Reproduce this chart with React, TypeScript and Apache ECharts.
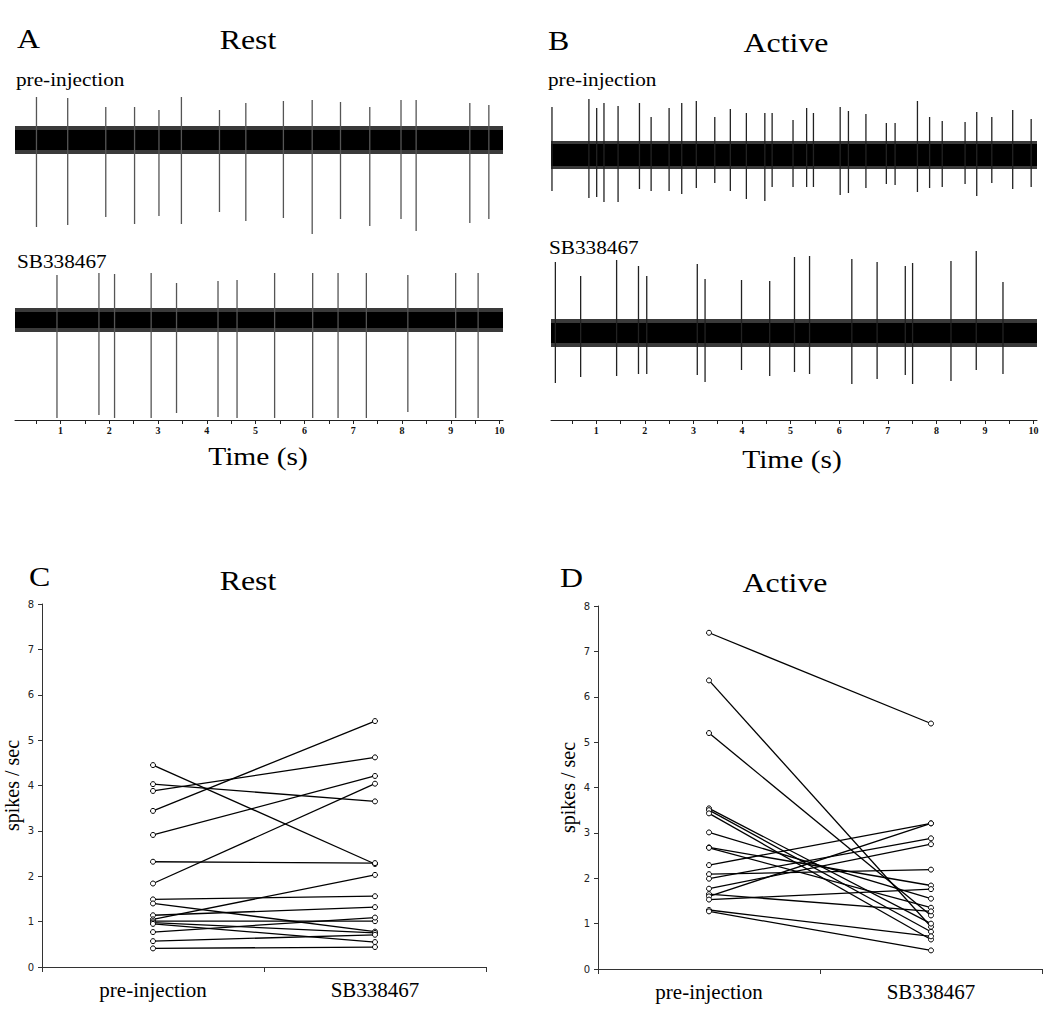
import React, { useEffect, useRef } from "react";
import * as echarts from "echarts";

// ---------- data ----------
const groups = ["pre-injection", "SB338467"];
const timeLabelValues = [1, 2, 3, 4, 5, 6, 7, 8, 9, 10];
const timeTickValues = [0.5, 1, 1.5, 2, 2.5, 3, 3.5, 4, 4.5, 5, 5.5, 6, 6.5, 7, 7.5, 8, 8.5, 9, 9.5, 10];
const traceRange = [0.07, 10.07];

// noise band half-widths [dense core, ragged edge] (amplitude units)
const restPreBand = [10, 14];
const restSBBand = [8, 12];
const activePreBand = [11, 14];
const activeSBBand = [10, 14];

// spikes: [time (s), positive peak, negative peak]
const restPreSpikes = [
  [0.51, 43, -87], [1.15, 42, -85], [1.93, 33, -77], [2.52, 33, -84], [3.02, 30, -76],
  [3.48, 43, -84], [4.26, 30, -72], [4.8, 37, -81], [5.57, 39, -78], [6.16, 40, -94],
  [6.74, 38, -79], [7.34, 33, -86], [7.98, 40, -79], [8.29, 40, -91], [9.39, 37, -83],
  [9.78, 35, -79],
];
const restSBSpikes = [
  [0.93, 45, -98], [1.79, 47, -95], [2.11, 46, -98], [2.86, 47, -98], [3.38, 37, -93],
  [4.23, 39, -97], [4.62, 40, -98], [5.39, 47, -98], [6.17, 47, -98], [6.69, 47, -98],
  [7.27, 47, -98], [8.12, 45, -92], [9.1, 47, -98], [9.56, 47, -98],
];
const activePreSpikes = [
  [0.09, 48, -36], [0.85, 56, -43], [1.01, 47, -42], [1.16, 52, -47], [1.45, 49, -47],
  [1.89, 52, -34], [2.13, 38, -36], [2.5, 47, -36], [2.76, 52, -39], [3.06, 54, -33],
  [3.44, 38, -28], [3.76, 46, -36], [4.09, 42, -44], [4.47, 42, -46], [4.62, 42, -32],
  [5.05, 35, -32], [5.33, 47, -32], [5.47, 42, -32], [6.02, 48, -40], [6.19, 44, -38],
  [6.55, 41, -33], [6.97, 32, -29], [7.15, 32, -30], [7.61, 54, -37], [7.86, 38, -33],
  [8.12, 34, -32], [8.59, 33, -29], [8.83, 43, -41], [9.14, 38, -28], [9.57, 45, -34],
  [9.95, 36, -32],
];
const activeSBSpikes = [
  [0.16, 71, -50], [0.68, 57, -44], [1.42, 73, -43], [1.87, 67, -41], [2.04, 57, -41],
  [3.08, 69, -42], [3.24, 54, -49], [3.99, 53, -37], [4.57, 52, -43], [5.08, 76, -39],
  [5.39, 77, -41], [6.26, 74, -51], [6.78, 71, -46], [7.36, 67, -42], [7.51, 70, -51],
  [8.3, 72, -48], [8.82, 82, -37], [9.37, 51, -41],
];

// firing rates (spikes / sec), paired per neuron
const restPre = [4.45, 4.03, 3.88, 3.44, 2.91, 2.32, 1.84, 1.49, 1.4, 1.14, 1.05, 1.01, 0.98, 0.95, 0.77, 0.57, 0.41];
const restSB = [2.27, 3.65, 4.62, 5.42, 4.21, 2.29, 4.04, 1.56, 0.78, 1.32, 2.03, 1.01, 0.75, 0.55, 1.09, 0.71, 0.44];
const activePre = [7.41, 6.36, 5.2, 3.54, 3.5, 3.43, 3.01, 2.68, 2.67, 2.29, 2.09, 1.99, 1.77, 1.65, 1.6, 1.53, 1.3, 1.27];
const activeSB = [5.41, 0.93, 1.18, 1.0, 0.82, 0.65, 1.55, 1.84, 1.35, 3.21, 2.19, 2.88, 2.75, 1.27, 3.21, 1.76, 0.72, 0.41];

// ---------- helpers ----------
const SERIF = "Liberation Serif, Times New Roman, serif";
const SANS = "DejaVu Sans, Verdana, sans-serif";
const STRETCH = 1.18;

function bandSeries(idx: number, band: number[]) {
  return {
    type: "custom",
    xAxisIndex: idx,
    yAxisIndex: idx,
    silent: true,
    z: 2,
    data: [[traceRange[0], traceRange[1], band[0], band[1]]],
    encode: { x: [0, 1], y: [2, 3] },
    renderItem: (_p: any, api: any) => {
      const x0 = api.value(0), x1 = api.value(1), inner = api.value(2), outer = api.value(3);
      const a = api.coord([x0, outer]);
      const b = api.coord([x1, -outer]);
      const c = api.coord([x0, inner]);
      const d = api.coord([x1, -inner]);
      return {
        type: "group",
        children: [
          { type: "rect", shape: { x: a[0], y: a[1], width: b[0] - a[0], height: b[1] - a[1] }, style: { fill: "#3a3a3a" } },
          { type: "rect", shape: { x: c[0], y: c[1], width: d[0] - c[0], height: d[1] - c[1] }, style: { fill: "#000" } },
        ],
      };
    },
  };
}

function spikeSeries(idx: number, spikes: number[][], color: string) {
  return {
    type: "custom",
    xAxisIndex: idx,
    yAxisIndex: idx,
    silent: true,
    z: 3,
    data: spikes,
    encode: { x: 0, y: [1, 2] },
    renderItem: (_p: any, api: any) => {
      const p1 = api.coord([api.value(0), api.value(1)]);
      const p2 = api.coord([api.value(0), api.value(2)]);
      return {
        type: "line",
        shape: { x1: p1[0], y1: p1[1], x2: p2[0], y2: p2[1] },
        style: { stroke: color, lineWidth: 1.3 },
      };
    },
  };
}

function traceXAxis(idx: number, show: boolean) {
  return {
    type: "value",
    gridIndex: idx,
    min: traceRange[0],
    max: traceRange[1],
    show,
    splitLine: { show: false },
    axisLine: { show: true, onZero: false, lineStyle: { color: "#222", width: 1 } },
    axisTick: { show: true, length: 4, customValues: timeTickValues, lineStyle: { color: "#222" } },
    axisLabel: {
      show: true,
      customValues: timeLabelValues,
      fontFamily: SERIF,
      fontWeight: "bold",
      fontSize: 10,
      color: "#111",
      margin: 5,
    },
  };
}

function traceYAxis(idx: number, min: number, max: number) {
  return { type: "value", gridIndex: idx, min, max, show: false, splitLine: { show: false } };
}

function rateXAxis(idx: number) {
  return {
    type: "category",
    gridIndex: idx,
    data: groups,
    boundaryGap: true,
    axisLine: { show: true, lineStyle: { color: "#333", width: 1 } },
    axisTick: { show: true, length: 5, alignWithLabel: false, lineStyle: { color: "#333" } },
    axisLabel: { fontFamily: SERIF, fontSize: 21, color: "#000", margin: 12 },
    splitLine: { show: false },
  };
}

function rateYAxis(idx: number) {
  return {
    type: "value",
    gridIndex: idx,
    min: 0,
    max: 8,
    interval: 1,
    name: "spikes / sec",
    nameLocation: "middle",
    nameRotate: 90,
    nameGap: 20,
    nameTextStyle: { fontFamily: SERIF, fontSize: 20, color: "#000" },
    axisLine: { show: true, lineStyle: { color: "#333", width: 1 } },
    axisTick: { show: true, length: 4, lineStyle: { color: "#333" } },
    axisLabel: { fontFamily: SANS, fontSize: 10, color: "#222", margin: 8 },
    splitLine: { show: false },
  };
}

function pairSeries(idx: number, pre: number[], sb: number[]) {
  return pre.map((v, i) => ({
    type: "line",
    xAxisIndex: idx,
    yAxisIndex: idx,
    data: [v, sb[i]],
    symbol: "circle",
    symbolSize: 5,
    itemStyle: { color: "#fff", borderColor: "#000", borderWidth: 1 },
    lineStyle: { color: "#000", width: 1.3 },
    silent: true,
    z: 3,
  }));
}

function label(text: string, x: number, y: number, size: number, align = "left") {
  return {
    type: "text",
    x,
    y,
    scaleX: STRETCH,
    silent: true,
    style: {
      text,
      fontFamily: SERIF,
      fontSize: size,
      fill: "#000",
      align,
      verticalAlign: "middle",
      textAlign: align,
      textVerticalAlign: "middle",
    },
  };
}

export default function App() {
  const ref = useRef<HTMLDivElement>(null);
  useEffect(() => {
    if (!ref.current) return;
    const chart = echarts.init(ref.current, undefined, { renderer: "svg" });
    const option: any = {
      animation: false,
      backgroundColor: "#fff",
      grid: [
        { left: 15, top: 80, width: 488, height: 160 },
        { left: 15, top: 260, width: 488, height: 160 },
        { left: 551, top: 95, width: 486, height: 160 },
        { left: 551, top: 243, width: 486, height: 177 },
        { left: 42, top: 604, width: 444, height: 363 },
        { left: 598, top: 606, width: 444, height: 363 },
      ],
      xAxis: [
        traceXAxis(0, false),
        traceXAxis(1, true),
        traceXAxis(2, false),
        traceXAxis(3, true),
        rateXAxis(4),
        rateXAxis(5),
      ],
      yAxis: [
        traceYAxis(0, -100, 60),
        traceYAxis(1, -100, 60),
        traceYAxis(2, -100, 60),
        traceYAxis(3, -87, 90),
        rateYAxis(4),
        rateYAxis(5),
      ],
      series: [
        bandSeries(0, restPreBand),
        spikeSeries(0, restPreSpikes, "#555"),
        bandSeries(1, restSBBand),
        spikeSeries(1, restSBSpikes, "#555"),
        bandSeries(2, activePreBand),
        spikeSeries(2, activePreSpikes, "#222"),
        bandSeries(3, activeSBBand),
        spikeSeries(3, activeSBSpikes, "#222"),
        ...pairSeries(4, restPre, restSB),
        ...pairSeries(5, activePre, activeSB),
      ],
      graphic: [
        label("A", 17, 39, 27),
        label("Rest", 248, 40, 27, "center"),
        label("pre-injection", 16, 80, 18),
        label("SB338467", 17, 262, 18),
        label("Time (s)", 258, 457, 25, "center"),
        label("B", 548, 41, 27),
        label("Active", 786, 43, 27, "center"),
        label("pre-injection", 548, 80, 18),
        label("SB338467", 549, 248, 18),
        label("Time (s)", 792, 460, 25, "center"),
        label("C", 29, 577, 27),
        label("Rest", 248, 581, 27, "center"),
        label("D", 560, 578, 27),
        label("Active", 785, 583, 27, "center"),
      ],
    };
    chart.setOption(option);
    return () => chart.dispose();
  }, []);
  return (
    <div
      ref={ref}
      style={{ position: "fixed", left: 0, top: 0, width: 1050, height: 1011, background: "#fff" }}
    />
  );
}
